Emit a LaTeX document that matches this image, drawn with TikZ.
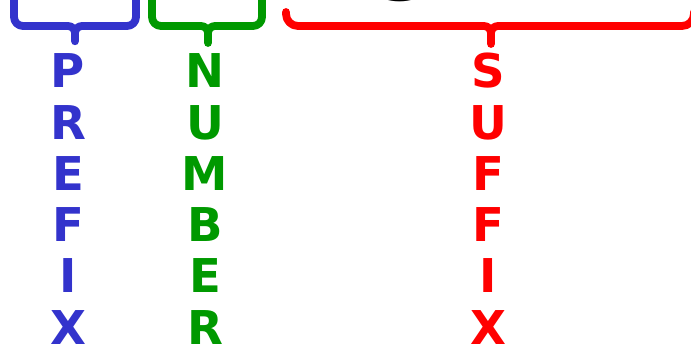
\documentclass[tikz,border=0pt]{standalone}
\usepackage{fontspec}
\setmainfont{DejaVu Sans}
\definecolor{pblue}{RGB}{51,51,204}
\definecolor{ngreen}{RGB}{0,153,0}
\definecolor{sred}{RGB}{255,0,0}
\tikzset{
  lbl/.style={font=\fontsize{46.6}{50}\selectfont\bfseries, anchor=base, inner sep=0pt},
  bracestroke/.style={line width=7.8pt, line cap=round, line join=round},
}
% colour, left x, right x, tip x, arm top y, bar y, tip y, corner radius
\newcommand\drawbrace[8]{%
  \draw[bracestroke, #1] (#2,#5) -- (#2,#6+#8)
     arc[start angle=180,end angle=270,radius=#8pt] -- (#4-7,#6)
     arc[start angle=90,end angle=0,radius=7pt] -- (#4,#7);
  \draw[bracestroke, #1] (#3,#5) -- (#3,#6+#8)
     arc[start angle=0,end angle=-90,radius=#8pt] -- (#4+7,#6)
     arc[start angle=90,end angle=180,radius=7pt] -- (#4,#6-7);
}
\begin{document}
\begin{tikzpicture}[x=1pt,y=1pt]
\useasboundingbox (0,0) rectangle (691,346);
\clip (0,0) rectangle (691,346);
% large plate text, cut off by the top edge
\node[font=\fontsize{95}{95}\selectfont\bfseries, anchor=base west, inner sep=0pt] (plate) at (5,345.6) {VP12DOHN};
% braces
\drawbrace{pblue}{14}{136}{75}{360}{320}{304.7}{9}
\drawbrace{ngreen}{152}{262}{208}{360}{320}{303}{9}
\drawbrace{sred}{286}{694}{491}{334}{320}{302}{12}
% vertical labels
\foreach \ch [count=\i] in {P,R,E,F,I,X}
  \node[lbl, text=pblue] (pre\i) at (68,{258-51.2*(\i-1)}) {\ch};
\foreach \ch [count=\i] in {N,U,M,B,E,R}
  \node[lbl, text=ngreen] (num\i) at (205,{258-51.2*(\i-1)}) {\ch};
\foreach \ch [count=\i] in {S,U,F,F,I,X}
  \node[lbl, text=sred] (suf\i) at (488,{258-51.2*(\i-1)}) {\ch};
\end{tikzpicture}
\end{document}
